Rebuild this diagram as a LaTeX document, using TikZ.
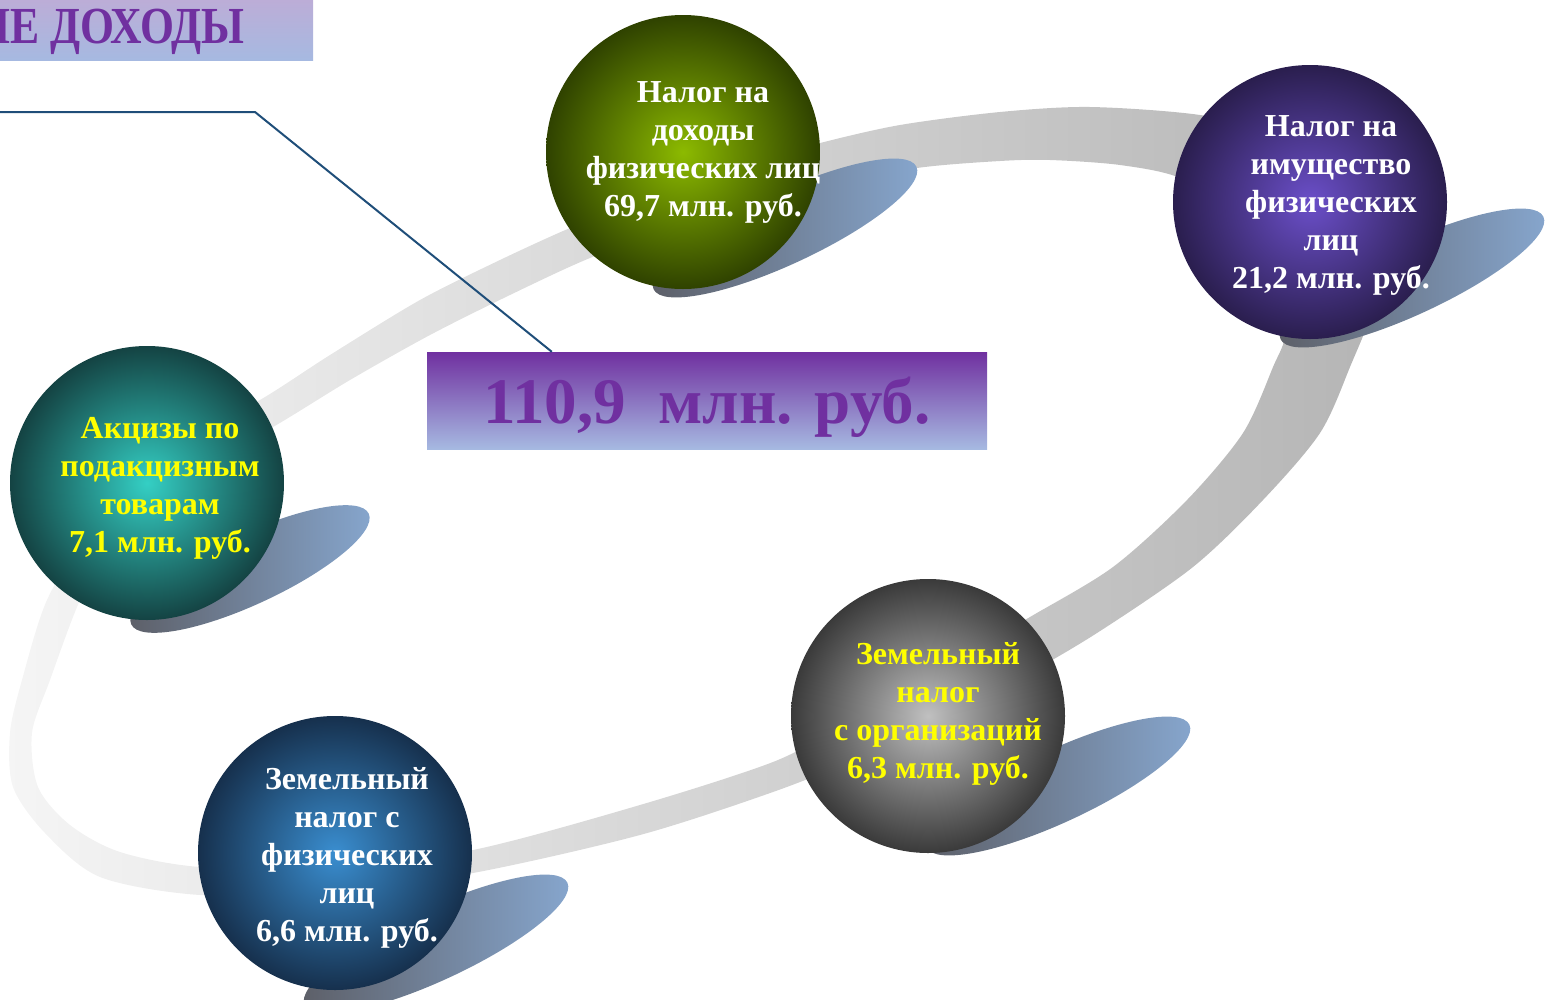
\documentclass[tikz,border=0pt]{standalone}
\usepackage{fontspec}
\setmainfont{Liberation Serif}
\newfontfamily\titlefont[FakeStretch=0.84]{Liberation Serif}
\usetikzlibrary{shapes.geometric, shadings}

\definecolor{titlepurple}{HTML}{7030A0}
\definecolor{paleblue}{HTML}{A6B9E1}
\definecolor{lavender}{HTML}{BCADD7}
\definecolor{leaderblue}{HTML}{1F4E79}
\definecolor{shadowgray}{HTML}{5C5E66}
\definecolor{shadowblue}{HTML}{87A7CF}
\definecolor{ndflin}{HTML}{8CBA00}
\definecolor{ndflout}{HTML}{2F4200}
\definecolor{propin}{HTML}{6B4FC9}
\definecolor{propout}{HTML}{2A1E4E}
\definecolor{excin}{HTML}{34CFC4}
\definecolor{excout}{HTML}{144343}
\definecolor{orgin}{HTML}{C0C0C0}
\definecolor{orgout}{HTML}{3A3A3A}
\definecolor{persin}{HTML}{3A8ED0}
\definecolor{persout}{HTML}{16304D}
\definecolor{texty}{HTML}{FFFF00}

\tikzstyle{sphere} = [circle, minimum size=274pt, inner sep=0pt]
\tikzstyle{spheretext} = [align=center, inner sep=0pt, font=\bfseries\fontsize{32}{38}\selectfont]
\tikzstyle{shadowblob} = [left color=shadowgray, right color=shadowblue]
\tikzstyle{band} = [left color=gray!8, right color=gray!58, even odd rule]
\tikzstyle{leader} = [leaderblue, line width=2pt]
\tikzstyle{sumbox} = [rectangle, minimum width=560pt, minimum height=97pt, top color=titlepurple, bottom color=paleblue, text=titlepurple, font=\bfseries\fontsize{65}{70}\selectfont, text depth=0pt]

\begin{document}
\begin{tikzpicture}[x=1pt, y=1pt, yscale=-1]
\useasboundingbox (0,0) rectangle (1548,999);
\clip (0,0) rectangle (1548,999);

% grey ring behind the spheres
\shade[band] plot[smooth cycle] coordinates {(10,733) (22,680) (47,600) (90,530) (160,455) (260,400) (330,355) (420,300) (500,260) (570,228) (632,204) (757,161) (820,143) (900,125) (1000,112) (1090,107) (1200,115) (1280,135) (1340,180) (1372,240) (1375,300) (1350,367) (1320,433) (1263,500) (1193,567) (1097,633) (1020,678) (940,718) (858,758) (773,792) (640,835) (473,873) (330,892) (200,895) (100,877) (45,833) (13,787)}
  plot[smooth cycle] coordinates {(32,733) (50,680) (80,600) (115,535) (185,475) (273,427) (350,380) (430,335) (510,295) (590,258) (670,230) (750,205) (835,185) (917,168) (1000,161) (1050,160) (1120,165) (1180,178) (1235,215) (1275,275) (1285,333) (1273,367) (1243,433) (1187,500) (1113,567) (1030,617) (965,655) (905,690) (840,727) (773,762) (640,805) (473,850) (330,868) (200,867) (120,852) (70,825) (38,787)};

% title and total
\node[rectangle, minimum width=313pt, minimum height=60pt, top color=lavender, bottom color=paleblue] (titlebox) at (156.5,30) {};
\node[anchor=base east, inner sep=0pt, text=titlepurple, font=\titlefont\bfseries\fontsize{52}{56}\selectfont] (title) at (245,43) {НАЛОГОВЫЕ ДОХОДЫ};
\node[sumbox] (total) at (707,400.5) {110,9~~млн. руб.};
\coordinate (lineStart) at (0,112);
\draw[leader] (lineStart) -- (255,112) -- ([xshift=125pt]total.north west);

% shadows
\shade[shadowblob, rotate around={-25:(785,228)}] (785,228) ellipse (145 and 36);
\shade[shadowblob, rotate around={-25:(1412,278)}] (1412,278) ellipse (145 and 36);
\shade[shadowblob, rotate around={-25:(250,569)}] (250,569) ellipse (131 and 35);
\shade[shadowblob, rotate around={-25:(1058,786)}] (1058,786) ellipse (145 and 36);
\shade[shadowblob, rotate around={-25:(436,944)}] (436,944) ellipse (145 and 36);

% spheres
\node[sphere, inner color=ndflin, outer color=ndflout] (ndfl) at (683,152) {};
\node[sphere, inner color=propin, outer color=propout] (property) at (1310,202) {};
\node[sphere, inner color=excin, outer color=excout] (excise) at (147,483) {};
\node[sphere, inner color=orgin, outer color=orgout] (landorg) at (928,716) {};
\node[sphere, inner color=persin, outer color=persout] (landpers) at (335,853) {};

\node[spheretext, text=white] (ndflText) at (703,152) {Налог на\\доходы\\физических лиц\\69,7 млн. руб.};
\node[spheretext, text=white] (propertyText) at (1331,205) {Налог на\\имущество\\физических\\лиц\\21,2 млн. руб.};
\node[spheretext, text=texty] (exciseText) at (160,488) {Акцизы по\\подакцизным\\товарам\\7,1 млн. руб.};
\node[spheretext, text=texty] (landorgText) at (938,714) {Земельный\\налог\\с организаций\\6,3 млн. руб.};
\node[spheretext, text=white] (landpersText) at (347,858) {Земельный\\налог с\\физических\\лиц\\6,6 млн. руб.};

\end{tikzpicture}
\end{document}
